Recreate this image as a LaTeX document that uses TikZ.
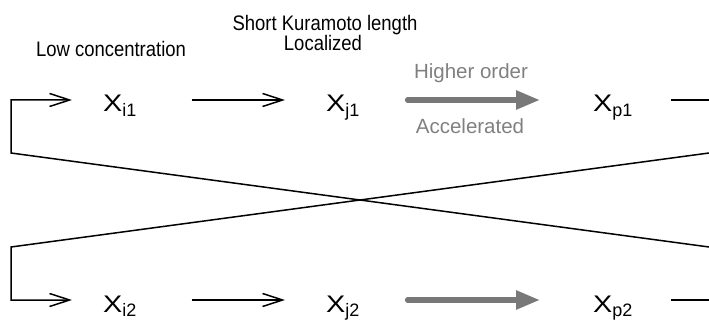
\documentclass[tikz,border=0pt]{standalone}
\usepackage{fontspec}
\setmainfont{Liberation Sans}
\usetikzlibrary{arrows.meta}
\definecolor{gtext}{HTML}{808080}
\definecolor{garrow}{HTML}{787878}
\newcommand\varX[1]{{\fontsize{24}{26}\selectfont\scalebox{1.2}[1]{X}}\raisebox{-5pt}{\fontsize{18}{20}\selectfont #1}}
\newcommand\narrow[1]{\scalebox{0.88}[1]{#1}}
\begin{document}
\begin{tikzpicture}[x=1pt,y=-1pt,
  lab/.style={font=\fontsize{21}{22}\selectfont, inner sep=0pt, anchor=base},
  glab/.style={font=\fontsize{20.5}{22}\selectfont, text=gtext, inner sep=0pt, anchor=base},
  var/.style={inner sep=0pt, anchor=west, text height=28pt, text depth=4pt},
  conn/.style={line width=1.5pt, line join=miter},
  arr/.style={conn, -{Straight Barb[length=20pt,width=13pt,line width=1.5pt]}},
  garr/.style={line width=5.5pt, draw=garrow, line cap=round, -{Triangle[length=24pt,width=18pt]}},
]
\useasboundingbox (0,0) rectangle (709,320);

% variable nodes
\node[var] (i1) at (103,100) {\varX{i1}};
\node[var] (j1) at (326,100) {\varX{j1}};
\node[var] (p1) at (593,100) {\varX{p1}};
\node[var] (i2) at (103,300) {\varX{i2}};
\node[var] (j2) at (326,300) {\varX{j2}};
\node[var] (p2) at (593,300) {\varX{p2}};

% labels
\node[lab] (lc) at (111,57) {\narrow{Low concentration}};
\node[lab] (sk1) at (325,30.5) {\narrow{Short Kuramoto length}};
\node[lab] (sk2) at (323,51) {\narrow{Localized}};
\node[glab] (ho) at (471,79) {Higher order};
\node[glab] (ac) at (470,134) {Accelerated};

% coordinates of the loop
\coordinate (tl) at (11,153);
\coordinate (bl) at (11,247);
\coordinate (tr) at (709,153);
\coordinate (br) at (709,247);
\coordinate (s1) at (11,100);
\coordinate (s2) at (11,300);
\coordinate (e1) at (709,100);
\coordinate (e2) at (709,300);

% row arrows
\draw[arr] ([xshift=55pt]i1.east) -- ([xshift=-41pt]j1.west);
\draw[arr] ([xshift=55pt]i2.east) -- ([xshift=-41pt]j2.west);
\draw[garr] ([xshift=48pt]j1.east) -- ([xshift=-53pt]p1.west);
\draw[garr] ([xshift=48pt]j2.east) -- ([xshift=-53pt]p2.west);
\draw[conn] ([xshift=38pt]p1.east) -- (e1);
\draw[conn] ([xshift=38pt]p2.east) -- (e2);

% crossing feedback
\draw[arr] (br) -- (tl) -- (s1) -- ([xshift=-31pt]i1.west);
\draw[arr] (tr) -- (bl) -- (s2) -- ([xshift=-31pt]i2.west);
\end{tikzpicture}
\end{document}
